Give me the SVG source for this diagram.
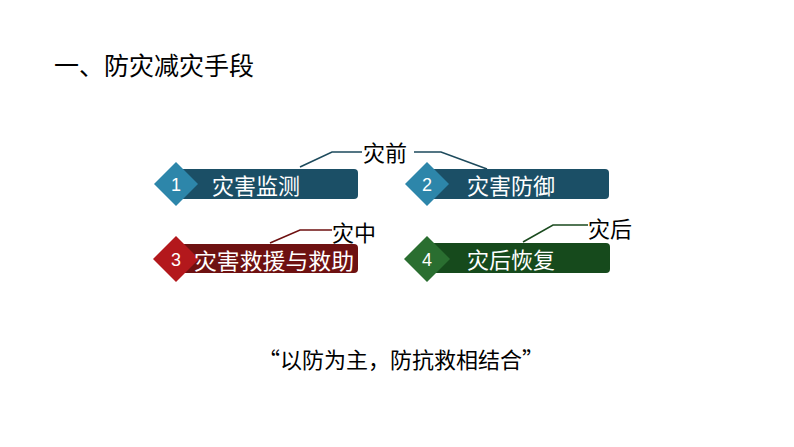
<svg xmlns="http://www.w3.org/2000/svg" width="794" height="447" viewBox="0 0 794 447">
<style>
.cjk{font-family:"Noto Sans CJK SC","Noto Sans",sans-serif;}
.lbl{font-family:"Noto Sans CJK SC","Noto Sans",sans-serif;font-size:22px;fill:#fff;dominant-baseline:central;}
.num{font-family:"Liberation Sans","Noto Sans",sans-serif;font-size:18px;fill:#fff;text-anchor:middle;dominant-baseline:central;}
.tag{font-family:"Noto Sans CJK SC","Noto Sans",sans-serif;font-size:22px;fill:#000;dominant-baseline:central;}
.ln{fill:none;stroke-width:1.6;}
</style>
<rect width="794" height="447" fill="#fff"/>
<text class="cjk" x="54" y="64" font-size="25" fill="#000" dominant-baseline="central">一、防灾减灾手段</text>

<g id="connectors">
<polyline class="ln" stroke="#1d4a5c" points="300,167 332,152 362,152"/>
<polyline class="ln" stroke="#1d4a5c" points="414,152 441,152 487,169"/>
<polyline class="ln" stroke="#6e1010" points="270,243 300,230 332,230"/>
<polyline class="ln" stroke="#1a4a1e" points="523,242 553,225 588,225"/>
</g>

<g id="node1">
<path d="M176,169 H354 Q358,169 358,173 V195 Q358,199 354,199 H176 Z" fill="#1b4f66"/>
<polygon points="176,162 198,184 176,206 154,184" fill="#2d86aa"/>
<text class="num" x="176" y="185">1</text>
<text class="lbl" x="212" y="184">灾害监测</text>
</g>
<g id="node2">
<path d="M427,169 H605 Q609,169 609,173 V195 Q609,199 605,199 H427 Z" fill="#1b4f66"/>
<polygon points="427,162 449,184 427,206 405,184" fill="#2d86aa"/>
<text class="num" x="427" y="185">2</text>
<text class="lbl" x="467" y="184">灾害防御</text>
</g>
<g id="node3">
<path d="M176,244 H354 Q358,244 358,248 V269 Q358,273 354,273 H176 Z" fill="#6e1111"/>
<polygon points="176,236 199,259 176,282 153,259" fill="#b3181c"/>
<text class="num" x="176" y="260">3</text>
<text class="lbl" x="194" y="259" font-size="22.5" textLength="160" lengthAdjust="spacingAndGlyphs">灾害救援与救助</text>
</g>
<g id="node4">
<path d="M427,243 H606 Q610,243 610,247 V269 Q610,273 606,273 H427 Z" fill="#164a1c"/>
<polygon points="427,236 450,259 427,282 404,259" fill="#2a6e30"/>
<text class="num" x="427" y="260">4</text>
<text class="lbl" x="467" y="258">灾后恢复</text>
</g>

<g id="tags">
<text class="tag" x="363" y="151">灾前</text>
<text class="tag" x="332" y="231">灾中</text>
<text class="tag" x="588" y="227">灾后</text>
</g>

<text class="cjk" x="401" y="358" font-size="22" fill="#000" text-anchor="middle" dominant-baseline="central">“以防为主，防抗救相结合”</text>
</svg>
